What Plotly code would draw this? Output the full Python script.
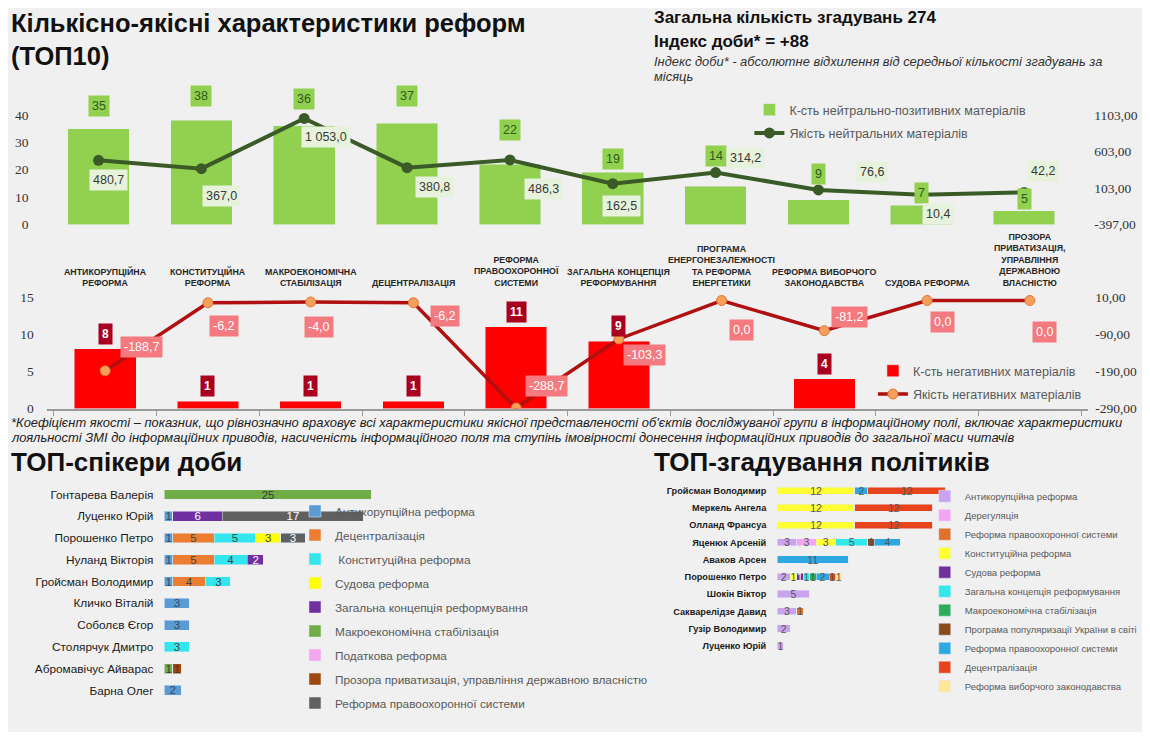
import plotly.graph_objects as go

# page is 1150x740; the html body has an 8px margin, so the figure is drawn 8px in
PAGE_W, PAGE_H, OFF = 1150, 740, 8
W, H = PAGE_W - 2 * OFF, PAGE_H - 2 * OFF

# ---------------- data ----------------
categories = [
    "АНТИКОРУПЦІЙНА<br>РЕФОРМА",
    "КОНСТИТУЦІЙНА<br>РЕФОРМА",
    "МАКРОЕКОНОМІЧНА<br>СТАБІЛІЗАЦІЯ",
    "ДЕЦЕНТРАЛІЗАЦІЯ",
    "РЕФОРМА<br>ПРАВООХОРОННОЇ<br>СИСТЕМИ",
    "ЗАГАЛЬНА КОНЦЕПЦІЯ<br>РЕФОРМУВАННЯ",
    "ПРОГРАМА<br>ЕНЕРГОНЕЗАЛЕЖНОСТІ<br>ТА РЕФОРМА<br>ЕНЕРГЕТИКИ",
    "РЕФОРМА ВИБОРЧОГО<br>ЗАКОНОДАВСТВА",
    "СУДОВА РЕФОРМА",
    "ПРОЗОРА<br>ПРИВАТИЗАЦІЯ,<br>УПРАВЛІННЯ<br>ДЕРЖАВНОЮ<br>ВЛАСНІСТЮ",
]
pos_counts = [35, 38, 36, 37, 22, 19, 14, 9, 7, 5]
pos_quality = [480.7, 367.0, 1053.0, 380.8, 486.3, 162.5, 314.2, 76.6, 10.4, 42.2]
neg_counts = [8, 1, 1, 1, 11, 9, 0, 4, 0, 0]
neg_quality = [-188.7, -6.2, -4.0, -6.2, -288.7, -103.3, 0.0, -81.2, 0.0, 0.0]

top_left_ticks = [0, 10, 20, 30, 40]
top_right_ticks = [-397, 103, 603, 1103]
bot_left_ticks = [0, 5, 10, 15]
bot_right_ticks = [-290, -190, -90, 10]

speakers = ["Гонтарева Валерія", "Луценко Юрій", "Порошенко Петро", "Нуланд Вікторія",
            "Гройсман Володимир", "Кличко Віталій", "Соболєв Єгор", "Столярчук Дмитро",
            "Абромавічус Айварас", "Барна Олег"]
sp_anticor = [0, 1, 1, 1, 1, 3, 3, 0, 0, 2]
sp_decentr = [0, 0, 5, 5, 4, 0, 0, 0, 0, 0]
sp_const = [0, 0, 5, 4, 3, 0, 0, 3, 0, 0]
sp_court = [0, 0, 3, 0, 0, 0, 0, 0, 0, 0]
sp_general = [0, 6, 0, 2, 0, 0, 0, 0, 0, 0]
sp_macro = [25, 0, 0, 0, 0, 0, 0, 0, 1, 0]
sp_tax = [0, 0, 0, 0, 0, 0, 0, 0, 0, 0]
sp_privat = [0, 0, 0, 0, 0, 0, 0, 0, 1, 0]
sp_police = [0, 17, 3, 0, 0, 0, 0, 0, 0, 0]

politicians = ["Гройсман Володимир", "Меркель Ангела", "Олланд Франсуа", "Яценюк Арсеній",
               "Аваков Арсен", "Порошенко Петро", "Шокін Віктор", "Сакварелідзе Давид",
               "Гузір Володимир", "Луценко Юрій"]
pl_anticor = [0, 0, 0, 3, 0, 2, 5, 3, 2, 1]
pl_dereg = [0, 0, 0, 3, 0, 0, 0, 0, 0, 0]
pl_police_a = [0, 0, 0, 0, 0, 0, 0, 1, 0, 0]
pl_const = [12, 12, 12, 3, 0, 1, 0, 0, 0, 0]
pl_court = [0, 0, 0, 0, 0, 1, 0, 0, 0, 0]
pl_general = [0, 0, 0, 5, 0, 1, 0, 0, 0, 0]
pl_macro = [0, 0, 0, 0, 0, 1, 0, 0, 0, 0]
pl_popular = [0, 0, 0, 1, 0, 0, 0, 0, 0, 0]
pl_police_b = [2, 0, 0, 4, 11, 2, 0, 0, 0, 0]
pl_decentr = [12, 12, 12, 0, 0, 1, 0, 0, 0, 0]
pl_elect = [0, 0, 0, 0, 0, 1, 0, 0, 0, 0]

# ---------------- styles ----------------
BG = "#F0F0F0"
SANS = "Liberation Sans, Arial, sans-serif"
SERIF = "Liberation Serif, DejaVu Serif, serif"

# label offsets in screen pixels (dx right, dy down)
pos_count_dy = [-23, -24, -27, -27, -34, -13, -30, -26, -12, -12]
pos_q_off = [(10, 20), (20, 27), (22, 19), (27, 19), (34, 29),
             (9, 22), (30, -15), (54, -18), (17, 19), (19, -21)]
neg_count_dy = -15
neg_q_off = [(36, -24), (16, 23), (8, 25), (32, 13), (30, -22),
             (26, 16), (20, 30), (25, -14), (15, 22), (15, 32)]


def px_x(p):
    return (p - OFF) / W


def px_y(p):
    return 1 - (p - OFF) / H


def fmt(v, sep=" "):
    return f"{v:,.1f}".replace(",", "_").replace(".", ",").replace("_", sep)


def fmt2(v):
    return f"{v:.2f}".replace(".", ",")


fig = go.Figure()

# ---- top chart ----
top_ppu = (227 - 116) / 40.0
top_lmax = (227 - 88) / top_ppu
r_per_l = (top_right_ticks[-1] - top_right_ticks[0]) / (top_left_ticks[-1] - top_left_ticks[0])

fig.add_trace(go.Bar(x=categories, y=pos_counts, name="К-сть нейтрально-позитивних матеріалів",
                     marker_color="#92D050", width=0.6, xaxis="x", yaxis="y",
                     legend="legend", legendgroup="a"))
fig.add_trace(go.Scatter(x=categories, y=pos_quality, name="Якість нейтральних матеріалів",
                         mode="lines+markers", line=dict(color="#3A5A28", width=4),
                         marker=dict(color="#3A5A28", size=11), xaxis="x", yaxis="y2",
                         legend="legend", legendgroup="b"))

# ---- bottom chart ----
bot_ppu = (413 - 300) / 15.0
bot_lmax = (413 - 290) / bot_ppu
r2_per_l = (bot_right_ticks[-1] - bot_right_ticks[0]) / (bot_left_ticks[-1] - bot_left_ticks[0])

fig.add_trace(go.Bar(x=categories, y=neg_counts, name="К-сть негативних матеріалів",
                     marker_color="#FF0000", width=0.6, xaxis="x3", yaxis="y3",
                     legend="legend2", legendgroup="c"))
fig.add_trace(go.Scatter(x=categories, y=neg_quality, name="Якість негативних матеріалів",
                         mode="lines+markers", line=dict(color="#B01010", width=3.5),
                         marker=dict(color="#F4A05A", size=10, line=dict(color="#E07838", width=1)),
                         xaxis="x3", yaxis="y4", legend="legend2", legendgroup="d"))

# ---- left hbar ----
sp_series = [
    ("Антикорупційна реформа", sp_anticor, "#5B9BD5", "#34495E"),
    ("Децентралізація", sp_decentr, "#ED7D31", "#444444"),
    (" Конституційна реформа", sp_const, "#33E6EE", "#444444"),
    ("Судова реформа", sp_court, "#FFFF00", "#444444"),
    ("Загальна концепція реформування", sp_general, "#7030A0", "#FFFFFF"),
    ("Макроекономічна стабілізація", sp_macro, "#70AD47", "#3A3A3A"),
    ("Податкова реформа", sp_tax, "#F4A6F0", "#444444"),
    ("Прозора приватизація, управління державною власністю", sp_privat, "#9E480E", "#3A3A3A"),
    ("Реформа правоохоронної системи", sp_police, "#606060", "#FFFFFF"),
]
for i, (nm, vals, col, tcol) in enumerate(sp_series):
    fig.add_trace(go.Bar(
        y=speakers, x=vals, orientation="h", name=nm, marker_color=col,
        text=[str(v) if v else "" for v in vals], textposition="inside", textangle=0,
        insidetextanchor="middle", constraintext="none",
        textfont=dict(color=tcol, size=11.5, family=SANS),
        width=0.45, xaxis="x5", yaxis="y5", legend="legend3", legendgroup=f"s{i}"))

# ---- right hbar ----
pl_series = [
    ("Антикорупційна реформа", pl_anticor, "#C9A3EE", "#555555"),
    ("Дерегуляція", pl_dereg, "#F2A6F2", "#555555"),
    ("Реформа правоохоронної системи", pl_police_a, "#E0702A", "#555555"),
    ("Конституційна реформа", pl_const, "#FFFF33", "#555555"),
    ("Судова реформа", pl_court, "#7030A0", "#FFFFFF"),
    ("Загальна концепція реформування", pl_general, "#33E8E8", "#555555"),
    ("Макроекономічна стабілізація", pl_macro, "#2EAA5C", "#555555"),
    ("Програма популяризації України в світі", pl_popular, "#8B4A1C", "#555555"),
    ("Реформа правоохоронної системи", pl_police_b, "#2EA8E0", "#555555"),
    ("Децентралізація", pl_decentr, "#E8441C", "#555555"),
    ("Реформа виборчого законодавства", pl_elect, "#FFE699", "#555555"),
]
for i, (nm, vals, col, tcol) in enumerate(pl_series):
    fig.add_trace(go.Bar(
        y=politicians, x=vals, orientation="h", name=nm, marker_color=col,
        text=[str(v) if v else "" for v in vals], textposition="inside", textangle=0,
        insidetextanchor="middle", constraintext="none",
        textfont=dict(color=tcol, size=10.5, family=SANS),
        width=0.42, xaxis="x6", yaxis="y6", legend="legend4"))

# ---------------- annotations ----------------
ann = []
ann.append(dict(text="<b>Кількісно-якісні характеристики реформ<br>(ТОП10)</b>", x=px_x(9), y=px_y(7),
                xref="paper", yref="paper", xanchor="left", yanchor="top", align="left",
                showarrow=False, font=dict(family=SANS, size=25.5, color="#111111")))
ann.append(dict(text="<b>Загальна кількість згадувань 274</b>", x=px_x(654), y=px_y(18),
                xref="paper", yref="paper", xanchor="left", yanchor="middle", showarrow=False,
                font=dict(family=SANS, size=17, color="#111111")))
ann.append(dict(text="<b>Індекс доби* = +88</b>", x=px_x(654), y=px_y(42),
                xref="paper", yref="paper", xanchor="left", yanchor="middle", showarrow=False,
                font=dict(family=SANS, size=17, color="#111111")))
ann.append(dict(text="<i>Індекс доби* - абсолютне відхилення від середньої кількості згадувань за</i>",
                x=px_x(654), y=px_y(62), xref="paper", yref="paper", xanchor="left", yanchor="middle",
                showarrow=False, font=dict(family=SANS, size=12.9, color="#333333")))
ann.append(dict(text="<i>місяць</i>", x=px_x(654), y=px_y(77), xref="paper", yref="paper",
                xanchor="left", yanchor="middle", showarrow=False,
                font=dict(family=SANS, size=12.9, color="#333333")))
ann.append(dict(text="<i>*Коефіцієнт якості – показник, що рівнозначно враховує всі характеристики якісної представленості об'єктів досліджуваної групи в інформаційному полі, включає характеристики</i>",
                x=px_x(9), y=px_y(427), xref="paper", yref="paper", xanchor="left", yanchor="middle",
                showarrow=False, font=dict(family=SANS, size=12.95, color="#222222")))
ann.append(dict(text="<i>лояльності ЗМІ до інформаційних приводів, насиченість інформаційного поля та ступінь імовірності донесення інформаційних приводів до загальної маси читачів</i>",
                x=px_x(9), y=px_y(442), xref="paper", yref="paper", xanchor="left", yanchor="middle",
                showarrow=False, font=dict(family=SANS, size=12.95, color="#222222")))
ann.append(dict(text="<b>ТОП-спікери доби</b>", x=px_x(9), y=px_y(467), xref="paper", yref="paper",
                xanchor="left", yanchor="middle", showarrow=False,
                font=dict(family=SANS, size=26, color="#111111")))
ann.append(dict(text="<b>ТОП-згадування політиків</b>", x=px_x(654), y=px_y(467), xref="paper", yref="paper",
                xanchor="left", yanchor="middle", showarrow=False,
                font=dict(family=SANS, size=26, color="#111111")))

# category labels
for c in categories:
    ann.append(dict(text=f"<b>{c}</b>", x=c, xref="x3", y=px_y(293), yref="paper",
                    xanchor="center", yanchor="bottom", align="center", showarrow=False,
                    font=dict(family=SANS, size=8.8, color="#262626")))

for i, (c, v) in enumerate(zip(categories, pos_counts)):
    ann.append(dict(text=str(v), x=c, y=v, xref="x", yref="y", showarrow=False,
                    yshift=-pos_count_dy[i], bgcolor="#92D050", borderpad=3,
                    font=dict(family=SANS, size=12.5, color="#2F5A1A")))
for i, (c, v) in enumerate(zip(categories, pos_quality)):
    dx, dy = pos_q_off[i]
    ann.append(dict(text=fmt(v), x=c, y=v, xref="x", yref="y2", showarrow=False,
                    xshift=dx, yshift=-dy, bgcolor="#E6F2DC", borderpad=3,
                    font=dict(family=SANS, size=12.5, color="#3A3A3A")))
for i, (c, v) in enumerate(zip(categories, neg_counts)):
    if v:
        ann.append(dict(text=f"<b>{v}</b>", x=c, y=v, xref="x3", yref="y3", showarrow=False,
                        yshift=-neg_count_dy, bgcolor="#A8001E", borderpad=3,
                        font=dict(family=SANS, size=12, color="#FFFFFF")))
for i, (c, v) in enumerate(zip(categories, neg_quality)):
    dx, dy = neg_q_off[i]
    ann.append(dict(text=fmt(v), x=c, y=v, xref="x3", yref="y4", showarrow=False,
                    xshift=dx, yshift=-dy, bgcolor="#F47A80", borderpad=3,
                    font=dict(family=SANS, size=12.5, color="#FFFFFF")))

tickfont = dict(family=SERIF, size=13.5, color="#333333")

fig.update_layout(
    width=W, height=H, autosize=False,
    margin=dict(l=0, r=0, t=0, b=0),
    paper_bgcolor=BG, plot_bgcolor="rgba(0,0,0,0)",
    barmode="stack",
    annotations=ann,
    showlegend=True,
    xaxis=dict(domain=[px_x(39.6), px_x(1087)], anchor="y", type="category",
               categoryorder="array", categoryarray=categories,
               showticklabels=False, showgrid=False, zeroline=False, showline=False),
    yaxis=dict(domain=[px_y(227), px_y(88)], anchor="x", range=[0, top_lmax],
               tickvals=top_left_ticks, showgrid=False, zeroline=False, tickfont=tickfont,
               ticklabelstandoff=10),
    yaxis2=dict(overlaying="y", side="right", anchor="x",
                range=[top_right_ticks[0], top_right_ticks[0] + top_lmax * r_per_l],
                tickvals=top_right_ticks, ticktext=[fmt2(v) for v in top_right_ticks],
                showgrid=False, zeroline=False, tickfont=tickfont, ticklabelstandoff=10),
    xaxis3=dict(domain=[px_x(47), px_x(1092)], anchor="y3", type="category",
                categoryorder="array", categoryarray=categories,
                showticklabels=False, showgrid=False, zeroline=False, showline=True,
                linecolor="#9A9A9A", linewidth=1.5, ticks="outside", tickson="boundaries",
                ticklen=6, tickcolor="#9A9A9A"),
    yaxis3=dict(domain=[px_y(413), px_y(290)], anchor="x3", range=[0, bot_lmax],
                tickvals=bot_left_ticks, showgrid=False, zeroline=False, tickfont=tickfont,
                ticklabelstandoff=12),
    yaxis4=dict(overlaying="y3", side="right", anchor="x3",
                range=[bot_right_ticks[0], bot_right_ticks[0] + bot_lmax * r2_per_l],
                tickvals=bot_right_ticks, ticktext=[fmt2(v) for v in bot_right_ticks],
                showgrid=False, zeroline=False, tickfont=tickfont, ticklabelstandoff=6),
    xaxis5=dict(domain=[px_x(165), px_x(165 + 60 * 8.32)], anchor="y5", range=[0, 60],
                visible=False),
    yaxis5=dict(domain=[px_y(709), px_y(489)], anchor="x5", type="category",
                categoryorder="array", categoryarray=speakers, autorange="reversed",
                showgrid=False, zeroline=False, ticklabelstandoff=10,
                tickfont=dict(family=SANS, size=11.8, color="#1A1A1A")),
    xaxis6=dict(domain=[px_x(780), px_x(780 + 40 * 6.5)], anchor="y6", range=[0, 40],
                visible=False),
    yaxis6=dict(domain=[px_y(661.7), px_y(487.3)], anchor="x6", type="category",
                categoryorder="array", categoryarray=politicians, autorange="reversed",
                showgrid=False, zeroline=False, ticklabelstandoff=10,
                tickfont=dict(family=SANS, size=9.2, color="#1A1A1A", weight="bold")),
    legend=dict(x=px_x(752), y=px_y(96), xanchor="left", yanchor="top",
                bgcolor="rgba(0,0,0,0)", tracegroupgap=4, traceorder="grouped",
                font=dict(family=SANS, size=12.5, color="#595959")),
    legend2=dict(x=px_x(876), y=px_y(360), xanchor="left", yanchor="top",
                 bgcolor="rgba(0,0,0,0)", tracegroupgap=4, traceorder="grouped",
                 font=dict(family=SANS, size=12.5, color="#595959")),
    legend3=dict(x=px_x(296), y=px_y(502), xanchor="left", yanchor="top",
                 bgcolor="rgba(0,0,0,0)", tracegroupgap=5, traceorder="grouped",
                 font=dict(family=SANS, size=11.8, color="#595959")),
    legend4=dict(x=px_x(928), y=px_y(487), xanchor="left", yanchor="top",
                 bgcolor="rgba(0,0,0,0)", tracegroupgap=0, traceorder="normal",
                 font=dict(family=SANS, size=9.5, color="#595959")),
)

fig.write_html("out.html")
